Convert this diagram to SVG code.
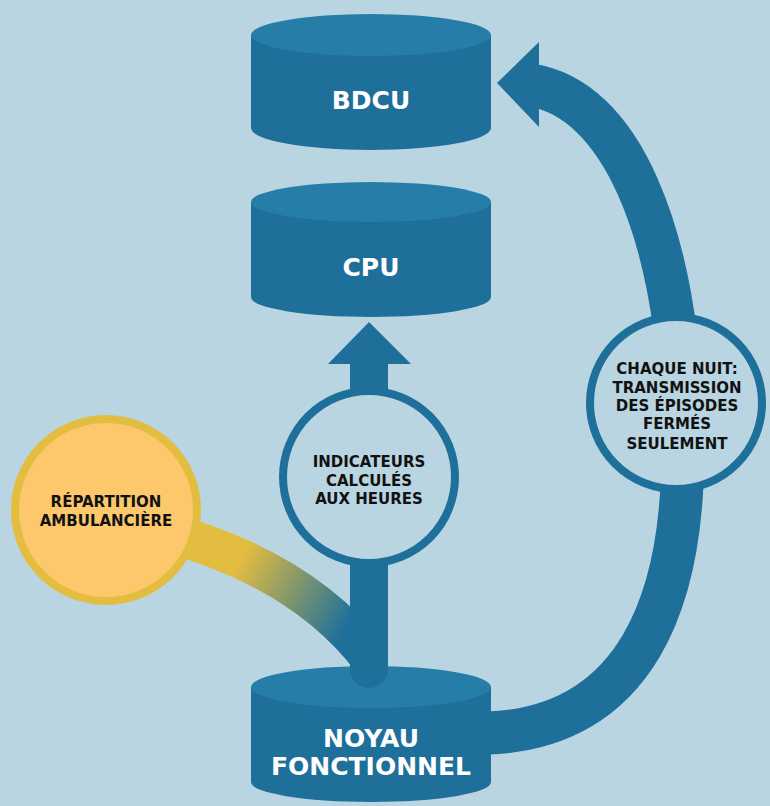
<svg xmlns="http://www.w3.org/2000/svg" width="770" height="806" viewBox="0 0 770 806">
<defs>
<style>
.side{fill:#1f6f9b}
.top{fill:#267ea8}
.big{font-family:"DejaVu Sans",sans-serif;font-weight:bold;font-size:25px;fill:#ffffff;text-anchor:middle}
.small{font-family:"DejaVu Sans",sans-serif;font-weight:bold;font-size:15px;fill:#111111;text-anchor:middle}
.ring{fill:#b8d5e1;stroke:#1f6f9b;stroke-width:8}
</style>
<linearGradient id="g1" gradientUnits="userSpaceOnUse" x1="240" y1="560" x2="350" y2="620">
<stop offset="0" stop-color="#e3bd40"/>
<stop offset="1" stop-color="#1f6f9b"/>
</linearGradient>
</defs>
<rect width="770" height="806" fill="#b8d5e1"/>
<g id="connectors">
<path d="M150 528 Q300 565 372 660" fill="none" stroke="url(#g1)" stroke-width="40"/>
<path d="M488 733 C630 728 690 610 682 420 C676 230 620 98 530 85" fill="none" stroke="#1f6f9b" stroke-width="43"/>
<polygon points="497,83 539,42 539,127" fill="#1f6f9b"/>
</g>
<g id="bdcu">
<path class="side" d="M251 35 L251 128 A120 22 0 0 0 491 128 L491 35 Z"/>
<ellipse class="top" cx="371" cy="35" rx="120" ry="21"/>
<text class="big" x="371" y="109">BDCU</text>
</g>
<g id="cpu">
<path class="side" d="M251 202 L251 297 A120 20 0 0 0 491 297 L491 202 Z"/>
<ellipse class="top" cx="371" cy="202" rx="120" ry="20"/>
<text class="big" x="371" y="276">CPU</text>
</g>
<g id="noyau">
<path class="side" d="M251 687 L251 782 A120 20 0 0 0 491 782 L491 687 Z"/>
<ellipse class="top" cx="371" cy="687" rx="120" ry="21"/>
<text class="big" x="371" y="747">NOYAU</text>
<text class="big" x="371" y="775">FONCTIONNEL</text>
</g>
<g id="stem">
<path class="side" d="M369 322 L411 364 L388 364 L388 669 A19 19 0 0 1 350 669 L350 364 L328 364 Z"/>
</g>
<g id="indicateurs">
<circle class="ring" cx="369" cy="477" r="86"/>
<text class="small" x="369" y="467">INDICATEURS</text>
<text class="small" x="369" y="486">CALCULÉS</text>
<text class="small" x="369" y="504">AUX HEURES</text>
</g>
<g id="repartition">
<circle cx="106" cy="510" r="91" fill="#fdc86c" stroke="#e3bd40" stroke-width="8"/>
<text class="small" x="106" y="507">RÉPARTITION</text>
<text class="small" x="106" y="526">AMBULANCIÈRE</text>
</g>
<g id="chaque">
<circle class="ring" cx="676" cy="403" r="86"/>
<text class="small" x="677" y="374">CHAQUE NUIT:</text>
<text class="small" x="677" y="393">TRANSMISSION</text>
<text class="small" x="677" y="411">DES ÉPISODES</text>
<text class="small" x="677" y="429">FERMÉS</text>
<text class="small" x="677" y="449">SEULEMENT</text>
</g>
</svg>
